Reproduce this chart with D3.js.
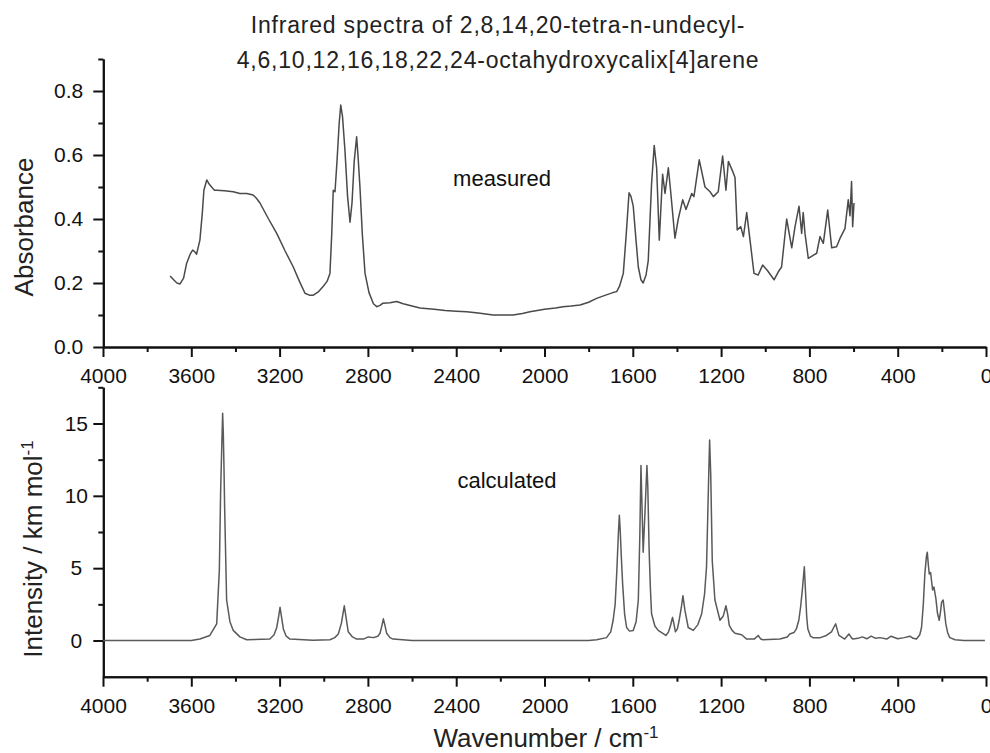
<!DOCTYPE html>
<html>
<head>
<meta charset="utf-8">
<script src="https://cdn.jsdelivr.net/npm/d3@7"></script>
<style>
  body { margin: 0; background: #fff; }
  svg { display: block; font-family: "Liberation Sans", Arial, sans-serif; }
  .axis path, .axis line { stroke: #111; stroke-width: 2; }
  .axis text { font-size: 21px; fill: #111; font-family: "Liberation Sans", Arial, sans-serif; }
</style>
</head>
<body>
<div id="container"></div>
<script>
/* CONSTANTS AND GLOBALS */
const width = 990;
const height = 753;

// measured IR spectrum: [wavenumber, absorbance]
const measured = [
  [3696, 0.222], [3680, 0.21], [3665, 0.200], [3651, 0.197], [3635, 0.215], [3621, 0.262],
  [3605, 0.29], [3594, 0.303], [3585, 0.298], [3576, 0.290], [3561, 0.334], [3550, 0.42],
  [3543, 0.49], [3530, 0.522], [3520, 0.51], [3508, 0.500], [3495, 0.49], [3485, 0.490],
  [3450, 0.488], [3410, 0.485], [3380, 0.48], [3349, 0.480], [3320, 0.475], [3305, 0.465],
  [3289, 0.450], [3250, 0.40], [3213, 0.355], [3175, 0.30], [3138, 0.250], [3110, 0.205],
  [3085, 0.168], [3065, 0.162], [3047, 0.162], [3025, 0.172], [3002, 0.190], [2985, 0.205],
  [2972, 0.230], [2964, 0.35], [2957, 0.490], [2949, 0.485], [2940, 0.58], [2930, 0.70],
  [2923, 0.756], [2915, 0.72], [2904, 0.615], [2892, 0.47], [2881, 0.390], [2872, 0.45],
  [2862, 0.58], [2851, 0.657], [2845, 0.60], [2836, 0.500], [2825, 0.35], [2813, 0.230],
  [2795, 0.17], [2775, 0.135], [2760, 0.126], [2745, 0.130], [2732, 0.137], [2700, 0.138],
  [2670, 0.142], [2640, 0.135], [2600, 0.128], [2564, 0.122], [2500, 0.118], [2450, 0.114],
  [2400, 0.112], [2353, 0.110], [2300, 0.106], [2233, 0.100], [2190, 0.100], [2143, 0.100],
  [2100, 0.105], [2066, 0.110], [2000, 0.118], [1950, 0.122], [1916, 0.126], [1880, 0.128],
  [1839, 0.131], [1800, 0.14], [1764, 0.152], [1720, 0.163], [1690, 0.170], [1673, 0.173],
  [1660, 0.19], [1643, 0.230], [1630, 0.35], [1617, 0.482], [1608, 0.47], [1598, 0.440],
  [1585, 0.33], [1575, 0.250], [1563, 0.21], [1553, 0.200], [1540, 0.225], [1530, 0.270],
  [1515, 0.510], [1503, 0.630], [1492, 0.560], [1480, 0.334], [1465, 0.540], [1454, 0.480],
  [1439, 0.560], [1429, 0.490], [1409, 0.340], [1394, 0.400], [1374, 0.460], [1359, 0.430],
  [1333, 0.480], [1323, 0.470], [1299, 0.585], [1273, 0.500], [1250, 0.485], [1235, 0.470],
  [1213, 0.485], [1193, 0.597], [1178, 0.490], [1167, 0.580], [1147, 0.548], [1137, 0.530],
  [1127, 0.366], [1111, 0.376], [1099, 0.345], [1084, 0.420], [1069, 0.334], [1051, 0.230],
  [1032, 0.225], [1012, 0.256], [991, 0.240], [960, 0.210], [941, 0.235], [926, 0.250],
  [903, 0.400], [880, 0.310], [865, 0.376], [847, 0.440], [835, 0.355], [828, 0.420],
  [820, 0.355], [805, 0.277], [767, 0.293], [752, 0.345], [737, 0.324], [717, 0.428],
  [699, 0.310], [677, 0.313], [661, 0.340], [639, 0.370], [624, 0.460], [616, 0.410],
  [609, 0.517], [604, 0.376], [598, 0.450]
];

// calculated spectrum: [wavenumber, intensity km/mol]
const calculated = [
  [4000, 0], [3600, 0], [3561, 0.1], [3516, 0.35], [3485, 1.15], [3473, 4.85], [3467, 10.4],
  [3461, 14], [3458, 15.7], [3455, 14.3], [3452, 12], [3449, 9.2], [3440, 2.8], [3425, 1.3],
  [3410, 0.7], [3380, 0.25], [3349, 0.05], [3244, 0.1], [3225, 0.4], [3213, 0.9], [3205, 1.6],
  [3198, 2.3], [3190, 1.5], [3183, 0.8], [3170, 0.3], [3153, 0.1], [3050, 0.02], [2972, 0.05],
  [2950, 0.2], [2934, 0.45], [2920, 1.2], [2907, 2.4], [2898, 1.5], [2889, 0.6], [2870, 0.25],
  [2851, 0.1], [2820, 0.1], [2798, 0.25], [2775, 0.2], [2755, 0.3], [2745, 0.5], [2737, 1.0],
  [2730, 1.5], [2722, 1.0], [2715, 0.5], [2700, 0.2], [2686, 0.1], [2600, 0], [1800, 0],
  [1764, 0.05], [1719, 0.2], [1700, 0.6], [1689, 1.4], [1680, 2.5], [1673, 4.6], [1665, 7.5],
  [1661, 8.65], [1657, 7.6], [1652, 5.8], [1646, 3.9], [1637, 1.8], [1628, 0.9], [1615, 0.65],
  [1598, 0.7], [1585, 1.3], [1575, 2.8], [1568, 7.4], [1563, 12.1], [1557, 8.5], [1553, 6.1],
  [1545, 8.8], [1536, 12.1], [1532, 10.6], [1526, 6.2], [1520, 3.5], [1515, 1.85], [1500, 1.0],
  [1485, 0.7], [1450, 0.35], [1438, 0.6], [1429, 1.04], [1420, 1.6], [1413, 1.1], [1407, 0.6],
  [1398, 0.8], [1390, 1.4], [1380, 2.3], [1373, 3.1], [1364, 2.1], [1349, 0.9], [1326, 0.7],
  [1305, 1.1], [1288, 1.85], [1275, 3.2], [1266, 5.1], [1256, 11.5], [1252, 13.85], [1247, 11.5],
  [1240, 5.5], [1228, 2.8], [1205, 1.4], [1190, 1.7], [1178, 2.4], [1170, 1.8], [1163, 1.04],
  [1150, 0.7], [1137, 0.5], [1107, 0.4], [1084, 0.1], [1050, 0.1], [1032, 0.35], [1020, 0.1],
  [1011, 0.05], [934, 0.1], [900, 0.25], [889, 0.45], [870, 0.55], [859, 0.8], [848, 1.4],
  [840, 2.3], [832, 3.5], [823, 5.1], [817, 3.2], [812, 1.6], [807, 0.8], [795, 0.3], [784, 0.2],
  [750, 0.2], [723, 0.35], [700, 0.6], [690, 0.9], [681, 1.15], [673, 0.7], [666, 0.35],
  [640, 0.1], [621, 0.45], [610, 0.2], [603, 0.1], [580, 0.15], [560, 0.25], [540, 0.12],
  [520, 0.3], [500, 0.15], [480, 0.2], [450, 0.1], [430, 0.3], [400, 0.12], [370, 0.2],
  [345, 0.3], [330, 0.15], [315, 0.1], [300, 0.4], [292, 0.9], [284, 2.5], [277, 4.6],
  [270, 5.8], [266, 6.1], [261, 5.2], [257, 4.6], [251, 4.7], [242, 3.5], [236, 3.7],
  [227, 2.9], [220, 1.9], [212, 1.4], [206, 2.0], [201, 2.65], [194, 2.8], [188, 2.0],
  [182, 1.15], [173, 0.5], [164, 0.2], [140, 0.05], [100, 0], [5, 0]
];

// ticks
const xMajor = [4000, 3600, 3200, 2800, 2400, 2000, 1600, 1200, 800, 400, 0];
const xMinor = [3800, 3400, 3000, 2600, 2200, 1800, 1400, 1000, 600, 200];
const absMajor = [0, 0.2, 0.4, 0.6, 0.8];
const absMinor = [0.1, 0.3, 0.5, 0.7, 0.9];
const intMajor = [0, 5, 10, 15];
const intMinor = [2.5, 7.5, 12.5, 17.5];

const titleLines = [
  "Infrared spectra of 2,8,14,20-tetra-n-undecyl-",
  "4,6,10,12,16,18,22,24-octahydroxycalix[4]arene"
];

const svg = d3.select("#container")
  .append("svg")
  .attr("width", width)
  .attr("height", height);

const xScale = d3.scaleLinear().domain([4000, 0]).range([103, 986]);
const yTop = d3.scaleLinear().domain([0, 0.9]).range([347, 59]);
const yBot = d3.scaleLinear().domain([-2.5, 17.5]).range([676.7, 387.3]);

// x axes (one per panel)
function drawX(y0) {
  svg.append("g").attr("class", "axis")
    .attr("transform", `translate(0,${y0})`)
    .call(d3.axisBottom(xScale).tickValues(xMinor).tickSize(5).tickSizeOuter(0).tickFormat(""));
  const g = svg.append("g").attr("class", "axis")
    .attr("transform", `translate(0,${y0})`)
    .call(d3.axisBottom(xScale).tickValues(xMajor).tickSize(10).tickSizeOuter(0).tickFormat(d3.format("d")));
  g.selectAll("text").attr("y", 36).attr("dy", 0);
}
drawX(yTop(0));
drawX(yBot(-2.5));

// y axis top
svg.append("g").attr("class", "axis")
  .attr("transform", `translate(103.3,0)`)
  .call(d3.axisLeft(yTop).tickValues(absMinor).tickSize(5).tickSizeOuter(0).tickFormat(""));
svg.append("g").attr("class", "axis")
  .attr("transform", `translate(103.3,0)`)
  .call(d3.axisLeft(yTop).tickValues(absMajor).tickSize(10).tickSizeOuter(0).tickFormat(d3.format(".1f")))
  .selectAll("text").attr("x", -20);

// y axis bottom
svg.append("g").attr("class", "axis")
  .attr("transform", `translate(103.3,0)`)
  .call(d3.axisLeft(yBot).tickValues(intMinor).tickSize(5).tickSizeOuter(0).tickFormat(""));
svg.append("g").attr("class", "axis")
  .attr("transform", `translate(103.3,0)`)
  .call(d3.axisLeft(yBot).tickValues(intMajor).tickSize(10).tickSizeOuter(0).tickFormat(d3.format("d")))
  .selectAll("text").attr("x", -27).attr("text-anchor", "middle");

// spectra
const lineTop = d3.line().x(d => xScale(d[0])).y(d => yTop(d[1]));
const lineBot = d3.line().x(d => xScale(d[0])).y(d => yBot(d[1]));

svg.append("path")
  .datum(measured)
  .attr("d", lineTop)
  .attr("fill", "none")
  .attr("stroke", "#4a4a4a")
  .attr("stroke-width", 1.5)
  .attr("stroke-linejoin", "round");

svg.append("path")
  .datum(calculated)
  .attr("d", lineBot)
  .attr("fill", "none")
  .attr("stroke", "#5a5a5a")
  .attr("stroke-width", 1.5)
  .attr("stroke-linejoin", "round");

// title
const title = svg.append("text")
  .attr("text-anchor", "middle")
  .attr("font-size", 23)
  .attr("letter-spacing", 0.8)
  .attr("fill", "#222");
title.selectAll("tspan")
  .data(titleLines)
  .join("tspan")
  .attr("x", 498)
  .attr("y", (d, i) => 33 + i * 35)
  .text(d => d);

// panel labels
svg.append("text")
  .attr("x", 502).attr("y", 186)
  .attr("text-anchor", "middle")
  .attr("font-size", 22)
  .attr("fill", "#111")
  .text("measured");

svg.append("text")
  .attr("x", 507).attr("y", 488)
  .attr("text-anchor", "middle")
  .attr("font-size", 22)
  .attr("fill", "#111")
  .text("calculated");

// axis titles
svg.append("text")
  .attr("transform", "translate(33,227) rotate(-90)")
  .attr("text-anchor", "middle")
  .attr("font-size", 26)
  .attr("fill", "#222")
  .text("Absorbance");

const yl = svg.append("text")
  .attr("transform", "translate(41.5,549) rotate(-90)")
  .attr("text-anchor", "middle")
  .attr("font-size", 26)
  .attr("fill", "#222");
yl.append("tspan").text("Intensity / km mol");
yl.append("tspan").attr("font-size", 17).attr("dy", -9).text("-1");

const xl = svg.append("text")
  .attr("x", 546).attr("y", 747)
  .attr("text-anchor", "middle")
  .attr("font-size", 26)
  .attr("fill", "#222");
xl.append("tspan").text("Wavenumber / cm");
xl.append("tspan").attr("font-size", 17).attr("dy", -9).text("-1");
</script>
</body>
</html>
